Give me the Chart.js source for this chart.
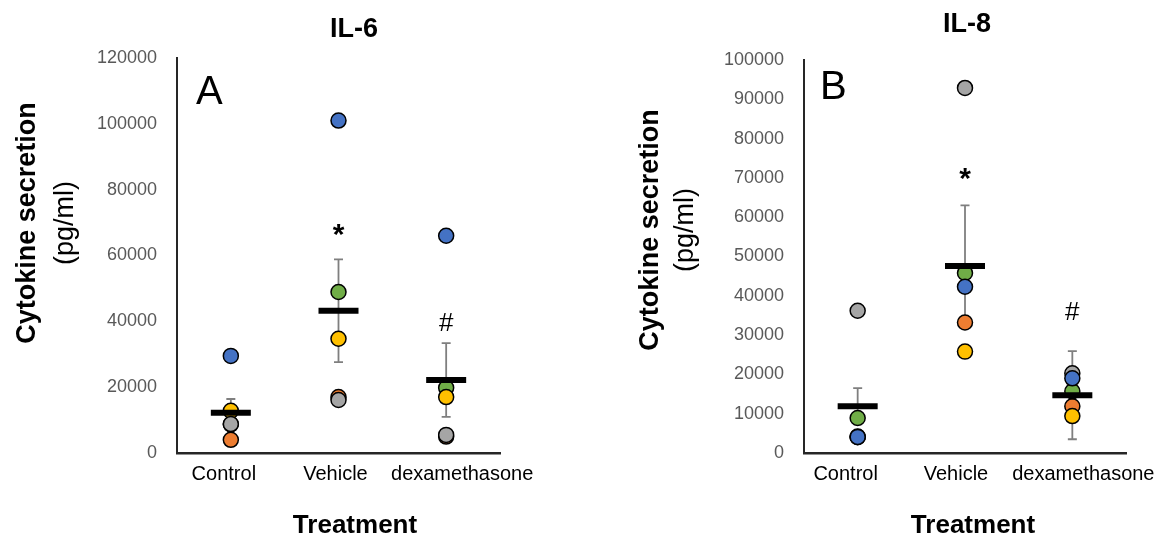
<!DOCTYPE html>
<html>
<head>
<meta charset="utf-8">
<script src="https://cdn.jsdelivr.net/npm/chart.js@4.4.1/dist/chart.umd.min.js"></script>
<style>
  html, body { margin: 0; padding: 0; background: #fff; }
  .panel { position: absolute; top: 0; height: 537px; }
  #il6-wrap { left: 0; width: 590px; }
  #il8-wrap { left: 590px; width: 568px; }
</style>
</head>
<body>
<div class="panel" id="il6-wrap"><canvas id="il6-chart"></canvas></div>
<div class="panel" id="il8-wrap"><canvas id="il8-chart"></canvas></div>
<script>
Chart.defaults.font.family = "'Liberation Sans', Arial, sans-serif"
Chart.defaults.animation = false

const treatments = ['Control', 'Vehicle', 'dexamethasone']

// IL-6 (pg/ml), one array per donor
const il6Blue = [29500, 101000, 66000]
const il6Gray = [8800, 16100, 5500]
const il6Yellow = [12800, 34700, 17000]
const il6Green = [8700, 48900, 19800]
const il6Orange = [4000, 17000, 5000]
const il6Mean = [12200, 43200, 22200]
const il6Sem = [4200, 15600, 11200]
const il6Max = 120000
const il6Step = 20000

// IL-8 (pg/ml)
const il8Blue = [4100, 42300, 19000]
const il8Gray = [36200, 92900, 20300]
const il8Yellow = [4200, 25800, 9400]
const il8Green = [8900, 45800, 15700]
const il8Orange = [4000, 33200, 11900]
const il8Mean = [11900, 47600, 14700]
const il8Sem = [4600, 15400, 11200]
const il8Max = 100000
const il8Step = 10000

const colBlue = '#4472C4'
const colGray = '#A5A5A5'
const colYellow = '#FFC000'
const colGreen = '#70AD47'
const colOrange = '#ED7D31'

const errorBarPlugin = {
    id: 'errorBars',
    beforeDatasetsDraw(chart, args, opts) {
        const x = chart.scales.x, y = chart.scales.y, ctx = chart.ctx
        ctx.save()
        ctx.strokeStyle = '#7F7F7F'
        ctx.lineWidth = 1.8
        opts.mean.forEach((m, i) => {
            const px = x.getPixelForValue(i)
            const top = y.getPixelForValue(m + opts.sem[i])
            const bot = y.getPixelForValue(m - opts.sem[i])
            ctx.beginPath()
            ctx.moveTo(px, top); ctx.lineTo(px, bot)
            ctx.moveTo(px - 4.5, top); ctx.lineTo(px + 4.5, top)
            ctx.moveTo(px - 4.5, bot); ctx.lineTo(px + 4.5, bot)
            ctx.stroke()
        })
        ctx.restore()
    }
}

// titles, panel letter, significance marks and the category labels
// (Excel staggers the category labels a bit, so they are drawn here)
const panelTextPlugin = {
    id: 'panelText',
    afterDraw(chart, args, o) {
        const ctx = chart.ctx, x = chart.scales.x, y = chart.scales.y
        const font = "'Liberation Sans', Arial, sans-serif"
        ctx.save()
        ctx.fillStyle = '#000'
        ctx.textAlign = 'center'
        ctx.textBaseline = 'middle'

        ctx.font = 'bold 27px ' + font
        ctx.fillText(o.title, o.titleX, o.titleY)

        ctx.font = 'bold 26px ' + font
        ctx.fillText('Treatment', o.xTitleX, o.xTitleY)

        ctx.font = '20px ' + font
        chart.data.labels.forEach((lab, i) => {
            ctx.fillText(lab, x.getPixelForValue(i) + o.labelShift[i], x.top + 21)
        })

        ctx.font = '40px ' + font
        ctx.textAlign = 'left'
        ctx.fillText(o.letter, o.letterX, o.letterY)

        ctx.textAlign = 'center'
        o.marks.forEach(mk => {
            ctx.font = mk.font + ' ' + font
            ctx.fillText(mk.text, x.getPixelForValue(mk.cat), y.getPixelForValue(mk.value))
        })

        ctx.translate(o.yTitleX1, o.yTitleY)
        ctx.rotate(-Math.PI / 2)
        ctx.font = 'bold 27px ' + font
        ctx.fillText('Cytokine secretion', 0, 0)
        ctx.font = '27px ' + font
        ctx.fillText('(pg/ml)', 0, o.yTitleX2 - o.yTitleX1)
        ctx.restore()
    }
}

function donorSet(label, data, color, order) {
    return {
        label: label,
        data: data,
        showLine: false,
        pointRadius: 7.5,
        pointBackgroundColor: color,
        pointBorderColor: '#000',
        pointBorderWidth: 1.5,
        order: order
    }
}

function makeChart(canvasId, p) {
    return new Chart(document.getElementById(canvasId), {
        type: 'line',
        data: {
            labels: treatments,
            datasets: [
                {
                    label: 'Mean',
                    data: p.mean,
                    showLine: false,
                    pointStyle: 'line',
                    pointRadius: 20,
                    pointBorderColor: '#000',
                    pointBorderWidth: 6,
                    order: 0
                },
                donorSet('Donor 1', p.blue, colBlue, 1),
                donorSet('Donor 2', p.gray, colGray, 2),
                donorSet('Donor 3', p.yellow, colYellow, 3),
                donorSet('Donor 4', p.green, colGreen, 4),
                donorSet('Donor 5', p.orange, colOrange, 5),
            ]
        },
        options: {
            responsive: true,
            maintainAspectRatio: false,
            events: [],
            layout: {
                padding: { top: p.top, right: p.right, left: 0, bottom: 0 }
            },
            scales: {
                x: {
                    type: 'category',
                    offset: true,
                    ticks: { display: false },
                    grid: { display: false, drawTicks: false },
                    border: { display: true, color: '#262626', width: 2.5 },
                    afterFit: s => { s.height = 84 }
                },
                y: {
                    min: 0,
                    max: p.max,
                    ticks: { stepSize: p.step, color: '#595959', font: { size: 18 }, padding: 20, callback: v => String(v) },
                    grid: { display: false, drawTicks: false },
                    border: { display: true, color: '#262626', width: 2 },
                    afterFit: s => { s.width = p.yWidth }
                }
            },
            plugins: {
                legend: { display: false },
                tooltip: { enabled: false },
                errorBars: { mean: p.mean, sem: p.sem },
                panelText: p.text
            }
        },
        plugins: [errorBarPlugin, panelTextPlugin]
    })
}

makeChart('il6-chart', {
    blue: il6Blue, gray: il6Gray, yellow: il6Yellow, green: il6Green, orange: il6Orange,
    mean: il6Mean, sem: il6Sem, max: il6Max, step: il6Step,
    top: 58, right: 90, yWidth: 177,
    text: {
        title: 'IL-6', titleX: 354, titleY: 30,
        letter: 'A', letterX: 196, letterY: 93,
        xTitleX: 355, xTitleY: 526,
        yTitleX1: 28, yTitleX2: 66, yTitleY: 223,
        labelShift: [-7, -3, 16],
        marks: [
            { text: '*', cat: 1, value: 66000, font: 'bold 30px' },
            { text: '#', cat: 2, value: 39200, font: '26px' }
        ]
    }
})

makeChart('il8-chart', {
    blue: il8Blue, gray: il8Gray, yellow: il8Yellow, green: il8Green, orange: il8Orange,
    mean: il8Mean, sem: il8Sem, max: il8Max, step: il8Step,
    top: 60, right: 32, yWidth: 214,
    text: {
        title: 'IL-8', titleX: 377, titleY: 25,
        letter: 'B', letterX: 230, letterY: 88,
        xTitleX: 383, xTitleY: 526,
        yTitleX1: 61, yTitleX2: 96, yTitleY: 230,
        labelShift: [-12, -9, 11],
        marks: [
            { text: '*', cat: 1, value: 69500, font: 'bold 30px' },
            { text: '#', cat: 2, value: 35600, font: '26px' }
        ]
    }
})
</script>
</body>
</html>
